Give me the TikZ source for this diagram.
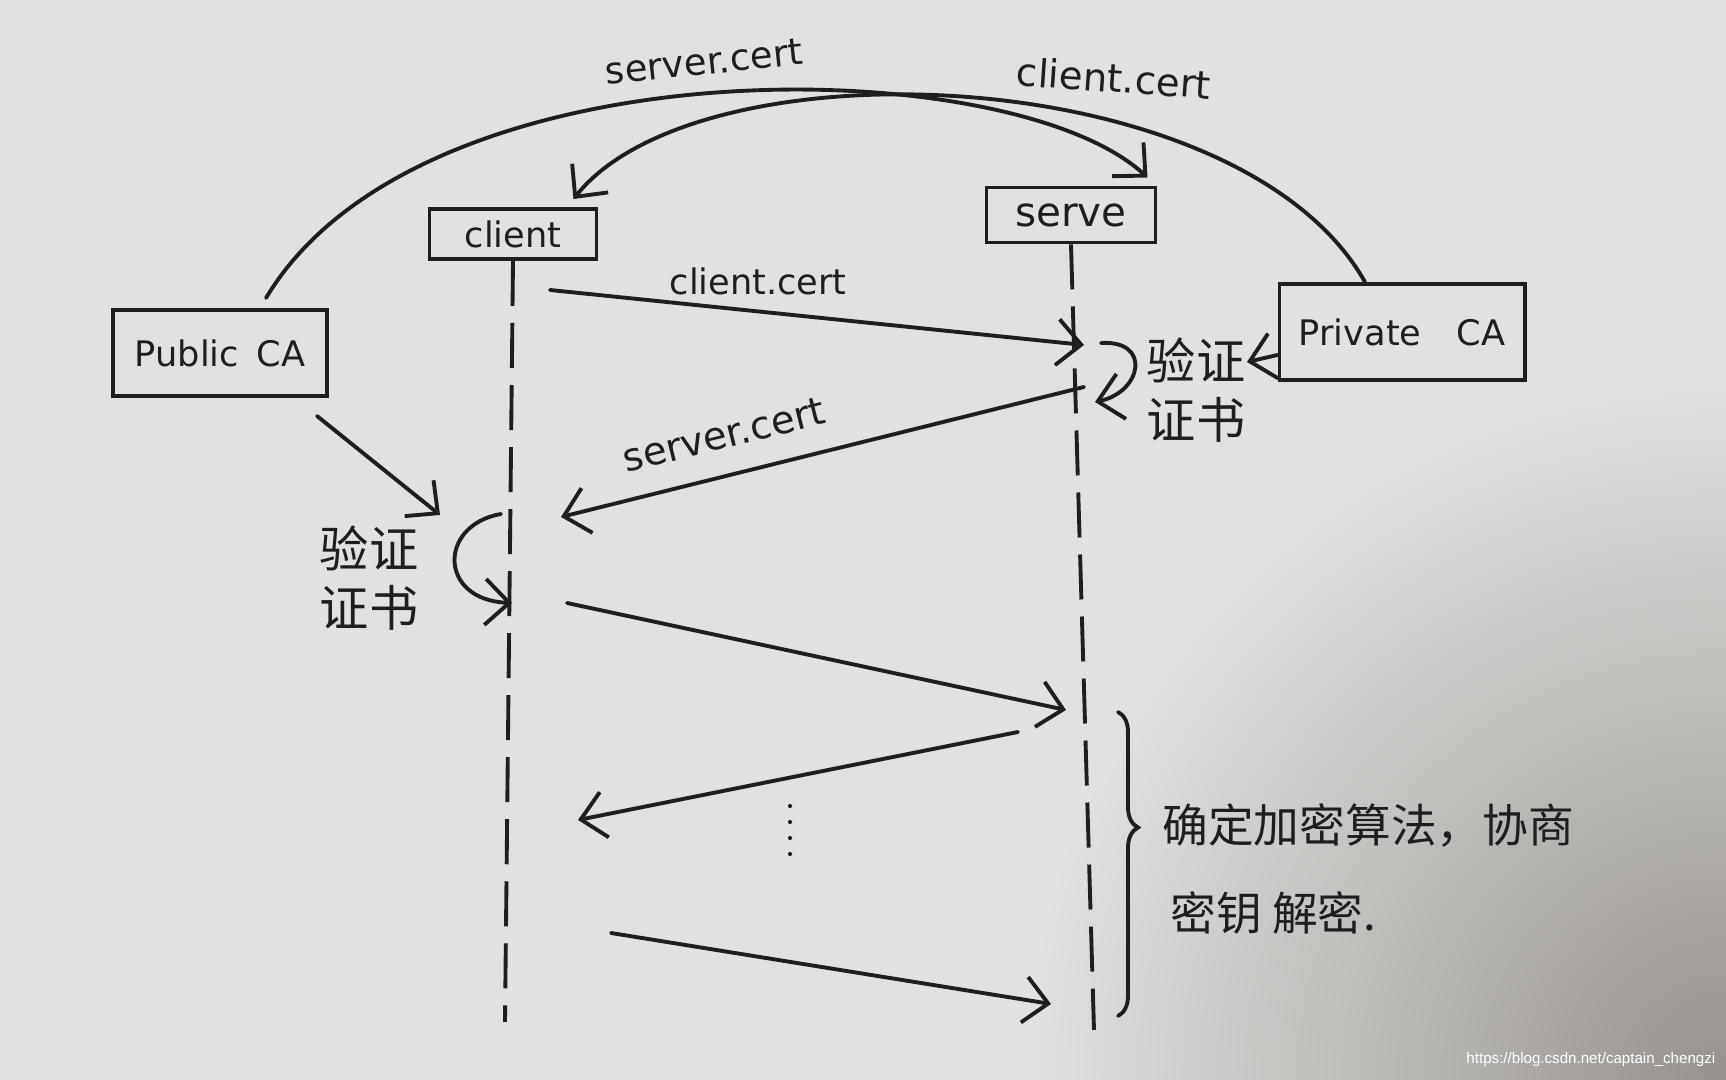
\documentclass[tikz,border=0pt]{standalone}
\usepackage{fontspec}
\setmainfont{DejaVu Sans}
\newfontfamily\cjk{Noto Sans CJK SC}
\newfontfamily\wmfont{Liberation Sans}
\usetikzlibrary{arrows.meta,decorations.pathreplacing}
\definecolor{paper}{RGB}{225,225,223}
\definecolor{paperdark}{RGB}{150,146,142}
\definecolor{ink}{RGB}{30,30,30}
\begin{document}
\begin{tikzpicture}[x=0.01cm,y=-0.01cm,
  ln/.style={line width=1.1pt, draw=ink, line cap=round},
  box/.style={ln, draw, rectangle, inner sep=0pt, text=ink, font=\fontsize{10}{12}\selectfont},
  arr/.style={ln, -{Straight Barb[length=2.4mm,width=4.6mm]}},
  lifeline/.style={ln, line cap=butt, dash pattern=on 0.45cm off 0.17cm},
  lbl/.style={text=ink, font=\fontsize{10.5}{13}\selectfont, inner sep=2pt},
  cn/.style={text=ink, font=\cjk\fontsize{14}{17}\selectfont, align=center},
  cnt/.style={text=ink, font=\cjk\fontsize{13}{15}\selectfont}]
\useasboundingbox (0,0) rectangle (1726,1080);
\fill[paper] (0,0) rectangle (1726,1080);
\begin{scope}
  \clip (0,0) rectangle (1726,1080);
  \shade[inner color=paperdark, outer color=paper] (1726,1080) circle (7cm);
\end{scope}

% participant boxes
\node[box, minimum width=1.67cm, minimum height=0.5cm] (client) at (513,234) {client};
\node[box, minimum width=1.69cm, minimum height=0.55cm, font=\fontsize{11.5}{14}\selectfont] (serve) at (1071,215) {serve};
\node[box, minimum width=2.14cm, minimum height=0.86cm] (pubca) at (220,353) {Public\enskip CA};
\node[box, minimum width=2.45cm, minimum height=0.96cm] (privca) at (1402,332) {Private\quad CA};

% lifelines
\coordinate (clend) at (505,1022);
\coordinate (svend) at (1094,1030);
\draw[lifeline] (client.south) -- (clend);
\draw[lifeline] (serve.south) -- (svend);

% certificate distribution arcs
\draw[arr] ([xshift=0.46cm,yshift=0.1cm]pubca.north) .. controls (420,40) and (1010,50) .. ([xshift=-0.1cm,yshift=0.08cm]serve.north east);
\draw[arr] ([xshift=-0.37cm]privca.north) .. controls (1240,60) and (700,40) .. ([xshift=-0.25cm,yshift=0.08cm]client.north east);
\node[lbl, rotate=6] (lsc1) at (704,62) {server.cert};
\node[lbl, rotate=-4, font=\fontsize{11}{13}\selectfont] (lcc1) at (1114,78) {client.cert};

% client -> server: client cert
\coordinate (m1s) at (550,290);
\coordinate (m1e) at (1084,345);
\draw[arr] (m1s) -- node[lbl, pos=0.39, above=2pt, font=\fontsize{10}{12}\selectfont] (lcc2) {client.cert} (m1e);

% server verifies
\coordinate (sl1) at (1101,343);
\coordinate (sl2) at (1095,402);
\draw[arr] (sl1) .. controls (1152,340) and (1142,392) .. (sl2);
\node[cn] (sv) at (1196,390) {验证\\证书};
\coordinate (sva) at (1247,362);
\draw[arr] ([yshift=-0.23cm]privca.west) -- (sva);

% server -> client: server cert
\coordinate (m2s) at (1084,387);
\coordinate (m2e) at (561,517);
\draw[arr] (m2s) -- node[lbl, pos=0.67, sloped, above=5pt, font=\fontsize{11}{13}\selectfont] (lsc2) {server.cert} (m2e);

% client verifies
\coordinate (pa1) at (317,416);
\coordinate (pa2) at (440,515);
\draw[arr] (pa1) -- (pa2);
\coordinate (cl1) at (501,514);
\coordinate (cl2) at (512,603);
\draw[arr] (cl1) .. controls (438,525) and (438,600) .. (cl2);
\node[cn] (cv) at (369,578) {验证\\证书};

% further exchanges
\coordinate (m3s) at (567,603);
\coordinate (m3e) at (1066,710);
\draw[arr] (m3s) -- (m3e);
\coordinate (m4s) at (1018,732);
\coordinate (m4e) at (578,820);
\draw[arr] (m4s) -- (m4e);
\coordinate (m5s) at (611,933);
\coordinate (m5e) at (1051,1004);
\draw[arr] (m5s) -- (m5e);
\foreach \yy in {806,822,838,854} \fill[ink] (790,\yy) circle (0.6pt);

% brace and note
\draw[ln, decorate, decoration={brace, amplitude=0.2cm, aspect=0.38}] (1118,712) -- (1118,1016);
\node[cnt, anchor=west] (t1) at (1150,826) {确定加密算法，协商};
\node[cnt, anchor=west] (t2) at (1158,913) {密钥 解密.};

% watermark
\node[text=white, font=\wmfont\fontsize{4.3}{5}\selectfont, anchor=east, inner sep=0pt] (wm) at (1716,1060) {https://blog.csdn.net/captain\_chengzi};
\end{tikzpicture}
\end{document}
